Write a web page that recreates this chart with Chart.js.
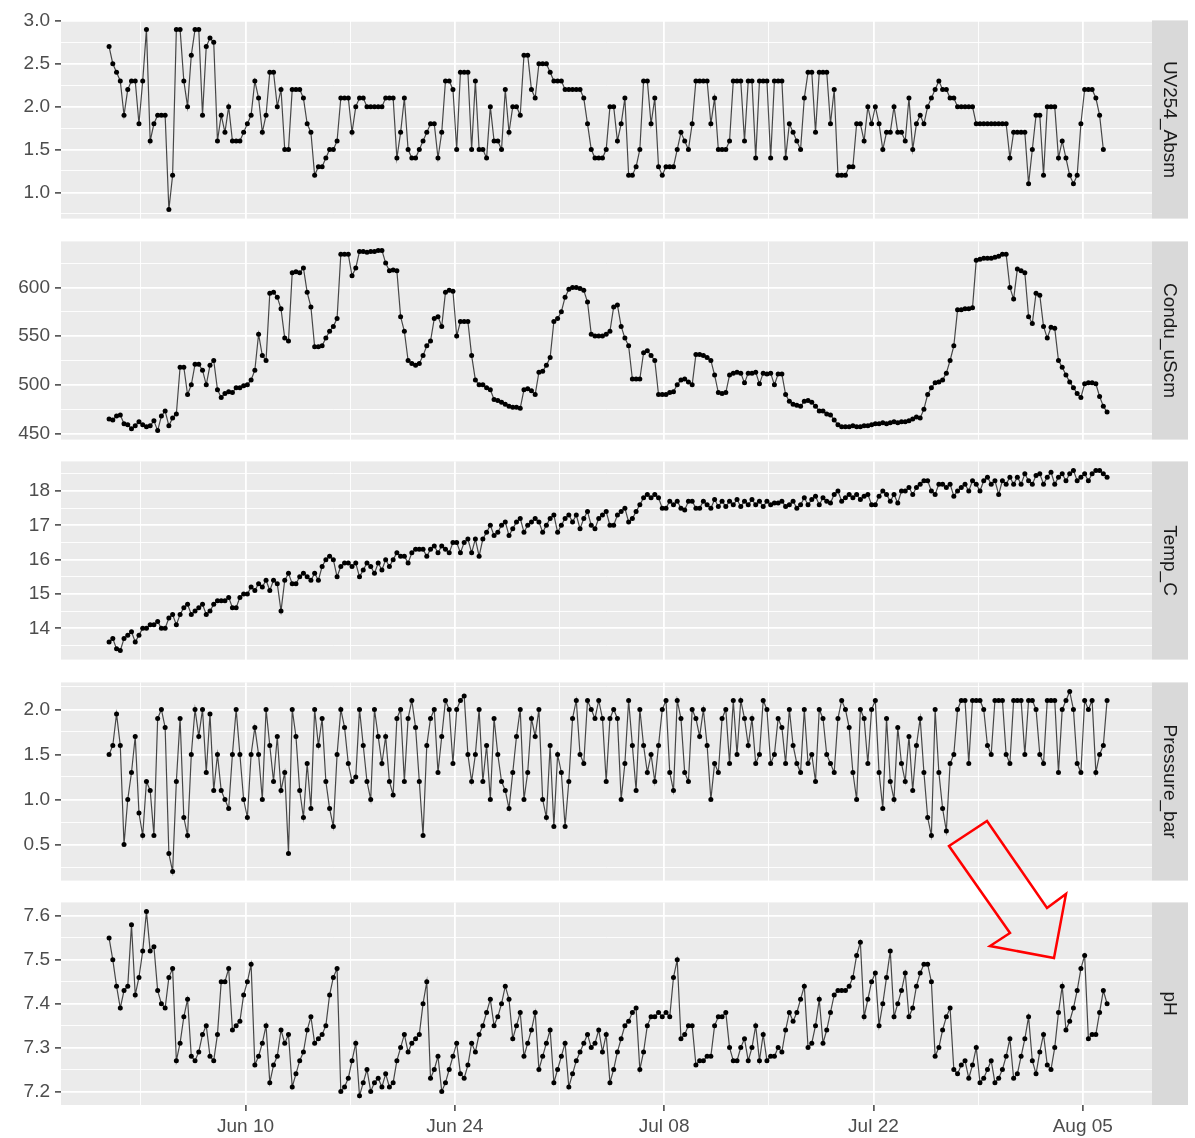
<!DOCTYPE html>
<html>
<head>
<meta charset="utf-8">
<script src="https://cdn.jsdelivr.net/npm/chart.js@4.4.1/dist/chart.umd.min.js"></script>
<style>
    body { margin: 0; background: #ffffff; }
    #wrap { position: relative; width: 1195px; height: 1138px; overflow: hidden; }
    #wrap canvas { position: absolute; left: 0; }
    #arrow { position: absolute; left: 0; top: 0; pointer-events: none; }
</style>
</head>
<body>
<div id="wrap">
    <svg id="arrow" width="1195" height="1138">
        <polygon points="949,846 987,821 1047,908 1066,894 1054,958 990,946 1010,933"
                 fill="none" stroke="#ff0000" stroke-width="2.5" stroke-linejoin="miter"/>
    </svg>
</div>
<script>
// readings: one every 6 h, first one just before Jun 1
const startDay = -0.125; // days after Jun 1
const stepDays = 0.25;

const uvAbs = [2.7,
    2.5,2.4,2.3,1.9, 2.2,2.3,2.3,1.8, 2.3,2.9,1.6,1.8, 1.9,1.9,1.9,0.8, 1.2,2.9,2.9,2.3,
    2.0,2.6,2.9,2.9, 1.9,2.7,2.8,2.75, 1.6,1.9,1.7,2.0, 1.6,1.6,1.6,1.7, 1.8,1.9,2.3,2.1,
    1.7,1.9,2.4,2.4, 2.0,2.2,1.5,1.5, 2.2,2.2,2.2,2.1, 1.8,1.7,1.2,1.3, 1.3,1.4,1.5,1.5,
    1.6,2.1,2.1,2.1, 1.7,2.0,2.1,2.1, 2.0,2.0,2.0,2.0, 2.0,2.1,2.1,2.1, 1.4,1.7,2.1,1.5,
    1.4,1.4,1.5,1.6, 1.7,1.8,1.8,1.4, 1.7,2.3,2.3,2.2, 1.5,2.4,2.4,2.4, 1.5,2.3,1.5,1.5,
    1.4,2.0,1.6,1.6, 1.5,2.2,1.7,2.0, 2.0,1.9,2.6,2.6, 2.2,2.1,2.5,2.5, 2.5,2.4,2.3,2.3,
    2.3,2.2,2.2,2.2, 2.2,2.2,2.1,1.8, 1.5,1.4,1.4,1.4, 1.5,2.0,2.0,1.6, 1.8,2.1,1.2,1.2,
    1.3,1.5,2.3,2.3, 1.8,2.1,1.3,1.2, 1.3,1.3,1.3,1.5, 1.7,1.6,1.5,1.8, 2.3,2.3,2.3,2.3,
    1.8,2.1,1.5,1.5, 1.5,1.6,2.3,2.3, 2.3,1.6,2.3,2.3, 1.4,2.3,2.3,2.3, 1.4,2.3,2.3,2.3,
    1.4,1.8,1.7,1.6, 1.5,2.1,2.4,2.4, 1.7,2.4,2.4,2.4, 1.8,2.2,1.2,1.2, 1.2,1.3,1.3,1.8,
    1.8,1.6,2.0,1.8, 2.0,1.8,1.5,1.7, 1.7,2.0,1.7,1.7, 1.6,2.1,1.5,1.8, 1.9,1.8,2.0,2.1,
    2.2,2.3,2.2,2.2, 2.1,2.1,2.0,2.0, 2.0,2.0,2.0,1.8, 1.8,1.8,1.8,1.8, 1.8,1.8,1.8,1.8,
    1.4,1.7,1.7,1.7, 1.7,1.1,1.5,1.9, 1.9,1.2,2.0,2.0, 2.0,1.4,1.6,1.4, 1.2,1.1,1.2,1.8,
    2.2,2.2,2.2,2.1, 1.9,1.5];

const conduct = [465,
    464,468,469,460, 459,455,458,462, 459,457,458,463, 453,468,473,458, 466,470,518,518,
    490,500,521,521, 515,500,520,525, 495,487,491,493, 492,497,497,499, 500,505,515,552,
    530,525,594,595, 590,578,548,545, 615,616,615,620, 595,580,539,539, 540,548,555,560,
    568,634,634,634, 612,620,637,637, 636,637,637,638, 638,625,617,618, 617,570,555,525,
    522,520,522,530, 540,545,568,570, 560,595,597,596, 550,565,565,565, 530,505,500,500,
    497,495,485,484, 482,480,478,477, 477,476,495,496, 494,490,513,514, 520,528,565,568,
    575,590,598,600, 600,599,597,585, 552,550,550,550, 552,555,580,582, 560,548,540,506,
    506,506,533,535, 530,525,490,490, 490,492,493,500, 505,506,503,500, 531,531,530,528,
    525,510,492,491, 492,510,512,513, 512,502,512,512, 513,501,512,511, 512,500,511,511,
    490,483,480,479, 478,483,484,482, 478,473,473,470, 469,464,459,457, 457,457,458,457,
    457,458,458,459, 460,460,461,460, 461,462,461,462, 462,463,465,467, 466,475,490,497,
    502,503,505,512, 525,540,577,577, 578,578,579,628, 629,630,630,630, 631,632,634,634,
    600,588,619,617, 615,570,563,594, 592,560,548,559, 558,525,518,510, 503,497,491,487,
    501,502,502,501, 488,478,472];

const tempC = [13.6,
    13.7,13.4,13.35,13.7, 13.8,13.9,13.6,13.8, 14.0,14.0,14.1,14.1, 14.2,14.0,14.0,14.3, 14.4,14.1,14.4,14.6,
    14.7,14.4,14.5,14.6, 14.7,14.4,14.5,14.7, 14.8,14.8,14.8,14.9, 14.6,14.6,14.9,15.0, 15.0,15.2,15.1,15.3,
    15.2,15.4,15.1,15.4, 15.3,14.5,15.4,15.6, 15.3,15.3,15.5,15.6, 15.5,15.4,15.6,15.4, 15.8,16.0,16.1,16.0,
    15.5,15.8,15.9,15.9, 15.8,15.9,15.5,15.7, 15.9,15.8,15.6,15.9, 15.7,16.0,15.8,16.0, 16.2,16.1,16.1,15.9,
    16.2,16.3,16.3,16.3, 16.1,16.3,16.4,16.2, 16.4,16.3,16.2,16.5, 16.5,16.2,16.5,16.6, 16.2,16.6,16.1,16.6,
    16.8,17.0,16.7,16.8, 17.0,17.1,16.7,16.9, 17.1,17.2,16.8,17.0, 17.1,17.2,17.1,16.8, 17.0,17.2,17.3,16.8,
    17.0,17.2,17.3,17.1, 17.3,16.9,17.2,17.4, 17.0,16.9,17.2,17.3, 17.4,17.0,17.0,17.3, 17.4,17.5,17.1,17.2,
    17.4,17.6,17.8,17.9, 17.8,17.9,17.8,17.5, 17.5,17.7,17.6,17.7, 17.5,17.45,17.7,17.7, 17.5,17.5,17.7,17.6,
    17.5,17.75,17.55,17.7, 17.55,17.7,17.6,17.75, 17.55,17.7,17.6,17.75, 17.6,17.7,17.55,17.7, 17.6,17.65,17.65,17.7,
    17.55,17.6,17.7,17.5, 17.6,17.8,17.6,17.75, 17.85,17.6,17.8,17.7, 17.65,17.9,18.0,17.7, 17.8,17.9,17.8,17.9,
    17.75,17.85,17.9,17.6, 17.6,17.85,18.0,17.9, 17.7,17.9,17.65,18.0, 18.0,18.1,17.9,18.1, 18.2,18.3,18.3,18.0,
    17.9,18.2,18.2,18.1, 18.2,17.85,18.0,18.1, 18.2,18.0,18.3,18.2, 18.0,18.3,18.4,18.2, 18.3,17.9,18.3,18.2,
    18.4,18.2,18.4,18.2, 18.5,18.3,18.2,18.45, 18.5,18.2,18.4,18.55, 18.2,18.4,18.5,18.3, 18.5,18.6,18.3,18.4,
    18.5,18.3,18.5,18.6, 18.6,18.5,18.4];

const pressureBar = [1.5,
    1.6,1.95,1.6,0.5, 1.0,1.3,1.7,0.85, 0.6,1.2,1.1,0.6, 1.9,2.0,1.8,0.4, 0.2,1.2,1.9,0.8,
    0.6,1.5,2.0,1.7, 2.0,1.3,1.95,1.1, 1.5,1.1,1.0,0.9, 1.5,2.0,1.5,1.0, 0.8,1.5,1.8,1.5,
    1.0,2.0,1.6,1.2, 1.7,1.1,1.3,0.4, 2.0,1.7,1.1,0.8, 1.4,0.9,2.0,1.6, 1.9,1.2,0.9,0.7,
    1.5,2.0,1.8,1.4, 1.2,1.25,2.0,1.6, 1.2,1.0,2.0,1.7, 1.4,1.7,1.2,1.05, 1.9,2.0,1.2,1.9,
    2.1,1.8,1.2,0.6, 1.6,1.9,2.0,1.3, 1.7,2.1,2.0,1.4, 2.0,2.1,2.15,1.5, 1.2,1.5,2.0,1.2,
    1.6,1.0,1.9,1.5, 1.2,1.1,0.9,1.3, 1.7,2.0,1.0,1.3, 1.9,1.7,2.0,1.0, 0.8,1.6,0.7,1.5,
    1.3,0.7,1.2,1.9, 2.1,1.5,1.4,2.1, 2.0,1.9,2.1,1.9, 1.2,1.9,2.0,1.9, 1.0,1.4,2.1,1.6,
    1.1,2.0,1.6,1.3, 1.5,1.2,1.6,2.0, 2.1,1.3,1.1,2.1, 1.9,1.3,1.2,2.0, 1.9,1.7,2.0,1.6,
    1.0,1.4,1.3,1.9, 2.0,1.4,2.1,1.5, 2.1,1.9,1.6,1.9, 1.4,1.5,2.1,2.0, 1.4,1.5,1.9,1.8,
    1.4,2.0,1.6,1.4, 1.3,2.0,1.4,1.5, 1.2,2.0,1.9,1.5, 1.4,1.3,1.9,2.1, 2.0,1.8,1.3,1.0,
    2.0,1.9,1.4,2.0, 2.1,1.3,0.9,1.9, 1.2,1.0,1.8,1.4, 1.2,1.7,1.1,1.6, 1.9,1.3,0.8,0.6,
    2.0,1.3,0.9,0.65, 1.4,1.5,2.0,2.1, 2.1,1.4,2.1,2.1, 2.1,2.0,1.6,1.5, 2.1,2.1,2.1,1.5,
    1.4,2.1,2.1,2.1, 1.5,2.1,2.1,2.0, 1.5,1.4,2.1,2.1, 2.1,1.3,2.0,2.1, 2.2,2.0,1.4,1.3,
    2.1,2.0,2.1,1.3, 1.5,1.6,2.1];

const phValues = [7.55,
    7.5,7.44,7.39,7.43, 7.44,7.58,7.42,7.46, 7.52,7.61,7.52,7.53, 7.43,7.4,7.39,7.46, 7.48,7.27,7.31,7.37,
    7.41,7.28,7.27,7.29, 7.33,7.35,7.28,7.27, 7.33,7.45,7.45,7.48, 7.34,7.35,7.36,7.42, 7.45,7.49,7.26,7.28,
    7.31,7.35,7.22,7.26, 7.28,7.34,7.31,7.33, 7.21,7.24,7.27,7.29, 7.34,7.37,7.31,7.32, 7.33,7.35,7.42,7.46,
    7.48,7.2,7.21,7.23, 7.27,7.31,7.19,7.22, 7.25,7.2,7.22,7.23, 7.21,7.24,7.21,7.22, 7.27,7.3,7.33,7.29,
    7.31,7.32,7.33,7.4, 7.45,7.23,7.25,7.28, 7.2,7.22,7.25,7.28, 7.31,7.24,7.23,7.26, 7.31,7.29,7.33,7.35,
    7.38,7.41,7.35,7.37, 7.4,7.44,7.41,7.32, 7.35,7.38,7.28,7.31, 7.34,7.38,7.25,7.28, 7.31,7.34,7.22,7.25,
    7.28,7.31,7.21,7.24, 7.27,7.29,7.31,7.33, 7.3,7.31,7.34,7.29, 7.33,7.22,7.25,7.29, 7.32,7.35,7.36,7.38,
    7.39,7.25,7.29,7.35, 7.37,7.37,7.38,7.37, 7.38,7.37,7.46,7.5, 7.32,7.33,7.35,7.35, 7.26,7.27,7.27,7.28,
    7.28,7.35,7.37,7.37, 7.38,7.3,7.27,7.27, 7.3,7.32,7.27,7.3, 7.35,7.27,7.33,7.27, 7.28,7.28,7.3,7.29,
    7.34,7.38,7.36,7.38, 7.41,7.44,7.3,7.31, 7.35,7.41,7.31,7.34, 7.38,7.42,7.43,7.43, 7.43,7.44,7.46,7.51,
    7.54,7.37,7.41,7.45, 7.47,7.35,7.4,7.46, 7.52,7.37,7.4,7.43, 7.47,7.37,7.39,7.44, 7.47,7.49,7.49,7.45,
    7.28,7.3,7.34,7.37, 7.39,7.25,7.24,7.26, 7.27,7.23,7.26,7.3, 7.22,7.23,7.25,7.27, 7.22,7.23,7.25,7.28,
    7.32,7.23,7.24,7.28, 7.32,7.37,7.27,7.24, 7.29,7.33,7.26,7.25, 7.3,7.38,7.44,7.34, 7.36,7.39,7.43,7.48,
    7.51,7.32,7.33,7.33, 7.38,7.43,7.4];

const facetNames = ["UV254_Absm", "Condu_uScm", "Temp_C", "Pressure_bar", "pH"];
const uvTicks = [1.0, 1.5, 2.0, 2.5, 3.0];
const condTicks = [450, 500, 550, 600];
const tempTicks = [14, 15, 16, 17, 18];
const pressureTicks = [0.5, 1.0, 1.5, 2.0];
const phTicks = [7.2, 7.3, 7.4, 7.5, 7.6];

const dateTicks = [9, 23, 37, 51, 65]; // days after Jun 1
const dateLabels = ["Jun 10", "Jun 24", "Jul 08", "Jul 22", "Aug 05"];
const minorDates = [2, 16, 30, 44, 58];

//----------------------Layout-----------------------------//
const FONT = "'Liberation Sans', Arial, sans-serif";
const W = 1195, H = 1138;
const panelTops = [16, 237, 457, 678, 898];
const panelH = 207;
const plotLeft = 61, plotRight = 1152, stripW = 36;
const xMin = -3.34, xMax = 69.63;
const PAD = 12;

const panels = [
    { name: facetNames[0], values: uvAbs, ticks: uvTicks, digits: 1 },
    { name: facetNames[1], values: conduct, ticks: condTicks, digits: 0 },
    { name: facetNames[2], values: tempC, ticks: tempTicks, digits: 0 },
    { name: facetNames[3], values: pressureBar, ticks: pressureTicks, digits: 1 },
    { name: facetNames[4], values: phValues, ticks: phTicks, digits: 1 },
];

const near = (list, v) => list.some((t) => Math.abs(t - v) < 1e-9);

// ggplot-like range: data extent plus 5% on each side
function expandRange(vals) {
    const lo = Math.min(...vals), hi = Math.max(...vals);
    const pad = (hi - lo) * 0.05;
    return [lo - pad, hi + pad];
}

// minor breaks half way between the major ones
function minorBreaks(ticks) {
    const step = ticks[1] - ticks[0];
    return [ticks[0] - step / 2].concat(ticks.map((t) => t + step / 2));
}

const facetPlugin = {
    id: "facet",
    beforeDraw(chart) {
        const a = chart.chartArea, ctx = chart.ctx;
        ctx.save();
        ctx.fillStyle = "#EBEBEB";
        ctx.fillRect(a.left, a.top, a.right - a.left, a.bottom - a.top);
        ctx.restore();
    },
    afterDraw(chart, args, opts) {
        const a = chart.chartArea, ctx = chart.ctx;
        ctx.save();
        ctx.fillStyle = "#D9D9D9";
        ctx.fillRect(a.right, a.top, stripW, a.bottom - a.top);
        ctx.translate(a.right + stripW / 2, (a.top + a.bottom) / 2);
        ctx.rotate(Math.PI / 2);
        ctx.fillStyle = "#1A1A1A";
        ctx.font = "19px " + FONT;
        ctx.textAlign = "center";
        ctx.textBaseline = "middle";
        ctx.fillText(opts.label, 0, 1);
        ctx.restore();
    },
};

const wrap = document.getElementById("wrap");
const arrow = document.getElementById("arrow");

panels.forEach((p, i) => {
    const last = i === panels.length - 1;
    const top = panelTops[i];
    const xAxisH = last ? H - (top + panelH) : 0;
    const padBottom = last ? 0 : PAD;
    const canvas = document.createElement("canvas");
    canvas.width = W;
    canvas.height = PAD + panelH + xAxisH + padBottom;
    canvas.style.top = top - PAD + "px";
    wrap.insertBefore(canvas, arrow);

    const [lo, hi] = expandRange(p.values);
    const yBreaks = p.ticks.concat(minorBreaks(p.ticks))
        .filter((v) => v >= lo && v <= hi)
        .sort((a, b) => a - b);
    const xBreaks = minorDates.concat(dateTicks).sort((a, b) => a - b);

    const isMajorY = (c) => c.tick && near(p.ticks, c.tick.value);
    const isMajorX = (c) => c.tick && near(dateTicks, c.tick.value);

    new Chart(canvas, {
        type: "line",
        data: {
            datasets: [
                {
                    data: p.values.map((v, k) => ({ x: startDay + k * stepDays, y: v })),
                    borderColor: "rgba(0,0,0,0.7)",
                    borderWidth: 1.2,
                    pointRadius: 2.5,
                    pointBackgroundColor: "#000000",
                    pointBorderWidth: 0,
                    pointHoverRadius: 0,
                    tension: 0,
                },
            ],
        },
        options: {
            responsive: false,
            animation: false,
            events: [],
            layout: { padding: { top: PAD, bottom: padBottom, left: 0, right: W - plotRight } },
            plugins: {
                legend: { display: false },
                tooltip: { enabled: false },
                facet: { label: p.name },
            },
            scales: {
                x: {
                    type: "linear",
                    min: xMin,
                    max: xMax,
                    afterBuildTicks: (s) => { s.ticks = xBreaks.map((v) => ({ value: v })); },
                    afterFit: (s) => { s.height = xAxisH; },
                    border: { display: false },
                    grid: {
                        color: "#FFFFFF",
                        lineWidth: (c) => (isMajorX(c) ? 1.8 : 0.9),
                        drawTicks: last,
                        tickLength: 6,
                        tickWidth: 1.4,
                        tickColor: (c) => (isMajorX(c) ? "#333333" : "rgba(0,0,0,0)"),
                    },
                    ticks: {
                        display: last,
                        autoSkip: false,
                        maxRotation: 0,
                        padding: 4,
                        color: "#4D4D4D",
                        font: { family: FONT, size: 19 },
                        callback: (v) => {
                            const k = dateTicks.findIndex((t) => Math.abs(t - v) < 1e-9);
                            return k < 0 ? "" : dateLabels[k];
                        },
                    },
                },
                y: {
                    type: "linear",
                    min: lo,
                    max: hi,
                    afterBuildTicks: (s) => { s.ticks = yBreaks.map((v) => ({ value: v })); },
                    afterFit: (s) => { s.width = plotLeft; },
                    border: { display: false },
                    grid: {
                        color: "#FFFFFF",
                        lineWidth: (c) => (isMajorY(c) ? 1.8 : 0.9),
                        drawTicks: true,
                        tickLength: 6,
                        tickWidth: 1.4,
                        tickColor: (c) => (isMajorY(c) ? "#333333" : "rgba(0,0,0,0)"),
                    },
                    ticks: {
                        autoSkip: false,
                        padding: 5,
                        color: "#4D4D4D",
                        font: { family: FONT, size: 19 },
                        callback: (v) => (near(p.ticks, v) ? v.toFixed(p.digits) : ""),
                    },
                },
            },
        },
        plugins: [facetPlugin],
    });
});
</script>
</body>
</html>
